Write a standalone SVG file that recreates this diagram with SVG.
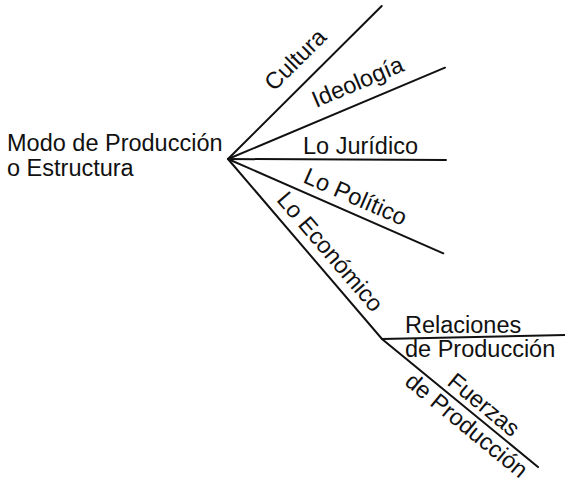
<svg xmlns="http://www.w3.org/2000/svg" width="565" height="485" viewBox="0 0 565 485">
<style>
text{font-family:"Liberation Sans",Arial,sans-serif;font-size:23.5px;fill:#111}
.c line,.c polyline{stroke:#111;stroke-width:2;fill:none;stroke-linecap:round}
</style>
<rect width="565" height="485" fill="#fff"/>
<g class="c" id="connectors">
<line x1="228" y1="159" x2="381.7" y2="6"/>
<line x1="228" y1="159" x2="445" y2="67.7"/>
<line x1="228" y1="159" x2="446" y2="160"/>
<line x1="228" y1="159" x2="443.3" y2="253.3"/>
<polyline points="228,159 382,339 538,467"/>
<line x1="382" y1="339" x2="565" y2="335"/>
</g>
<g id="root"><text x="7" y="151">Modo de Producción</text><text x="7" y="176">o Estructura</text></g>
<g id="cultura"><text transform="translate(274.1,91.9) rotate(-44.9)">Cultura</text></g>
<g id="ideologia"><text transform="translate(316.1,107.9) rotate(-22.8)">Ideología</text></g>
<g id="juridico"><text x="303" y="153.5">Lo Jurídico</text></g>
<g id="politico"><text transform="translate(302,182) rotate(23.65)">Lo Político</text></g>
<g id="economico"><text transform="translate(275.8,200.2) rotate(49.45)">Lo Económico</text></g>
<g id="relaciones"><text x="405" y="333">Relaciones</text><text x="405" y="357">de Producción</text></g>
<g id="fuerzas"><text transform="translate(446.1,383.9) rotate(39.4)">Fuerzas</text><text transform="translate(403.5,383.8) rotate(39.4)">de Producción</text></g>
</svg>
